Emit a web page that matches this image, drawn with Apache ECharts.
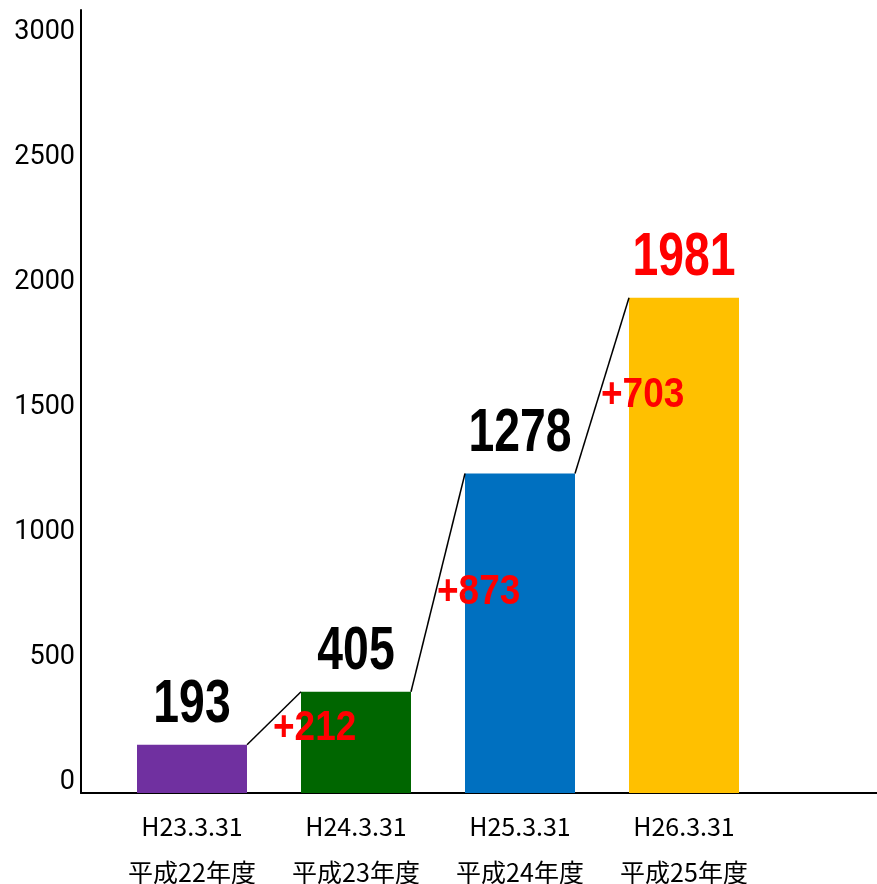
<!DOCTYPE html>
<html><head><meta charset="utf-8">
<script src="https://cdn.jsdelivr.net/npm/echarts@6/dist/echarts.min.js"></script>
<style>html,body{margin:0;padding:0;background:#fff}#c{width:877px;height:884px}</style>
</head><body><div id="c"></div>
<script>
const dates = ['H23.3.31', 'H24.3.31', 'H25.3.31', 'H26.3.31'];
const years = ['平成22年度', '平成23年度', '平成24年度', '平成25年度'];
const values = [193, 405, 1278, 1981];
const barColors = ['#7030A0', '#006600', '#0070C0', '#FFC000'];
const valueLabelColors = ['#000000', '#000000', '#000000', '#FF0000'];
const yTicks = [0, 500, 1000, 1500, 2000, 2500, 3000];

const categories = dates.map((d, i) => d + '\n' + years[i]);
const deltas = values.slice(1).map((v, i) => v - values[i]);
const BAR_W = 110;
const Y_MAX = 3132;
const bigFont = "'Liberation Sans', Arial, sans-serif";

const chart = echarts.init(document.getElementById('c'), null, {renderer: 'canvas'});
chart.setOption({
  animation: false,
  backgroundColor: '#ffffff',
  grid: [
    {left: 81, right: 0, top: 10, bottom: 91, outerBoundsMode: 'none', containLabel: false},
    {left: 110, width: 656, top: 10, bottom: 91, outerBoundsMode: 'none', containLabel: false}
  ],
  xAxis: [
    {type: 'value', gridIndex: 0, min: 0, max: 1, axisLine: {show: true, onZero: false, lineStyle: {color: '#000', width: 2}},
     axisTick: {show: false}, axisLabel: {show: false}, splitLine: {show: false}},
    {type: 'category', gridIndex: 1, data: categories, axisLine: {show: false}, axisTick: {show: false},
     axisLabel: {color: '#000', fontFamily: "'Noto Sans CJK JP', sans-serif", fontSize: 25, lineHeight: 46, margin: 10, interval: 0}}
  ],
  yAxis: [
    {type: 'value', gridIndex: 0, min: 0, max: Y_MAX, interval: 500,
     axisLine: {show: true, lineStyle: {color: '#000', width: 2}}, axisTick: {show: false}, splitLine: {show: false},
     axisLabel: {color: '#000', fontFamily: 'Roboto, sans-serif', fontSize: 27, margin: 6, verticalAlign: 'bottom',
       lineHeight: 22,
       formatter: v => yTicks.includes(v) ? String(v) : ''}},
    {type: 'value', gridIndex: 1, min: 0, max: Y_MAX, show: false}
  ],
  series: [
    {type: 'bar', xAxisIndex: 1, yAxisIndex: 1, barWidth: BAR_W,
     data: values.map((v, i) => ({value: v, itemStyle: {color: barColors[i]}})),
     label: {show: false}},
    {type: 'custom', xAxisIndex: 1, yAxisIndex: 1, z: 6,
     data: values.map((v, i) => [i, v]),
     renderItem: function (params, api) {
       const i = params.dataIndex;
       const p = api.coord([i, values[i]]);
       return {type: 'text', x: p[0], y: p[1] - 9, scaleX: 0.76,
         style: {text: String(values[i]), fill: valueLabelColors[i],
           font: 'bold 61px ' + bigFont, align: 'center', verticalAlign: 'bottom'}};
     }},
    {type: 'custom', xAxisIndex: 1, yAxisIndex: 1, z: 5,
     data: deltas.map((d, i) => [i, d]),
     renderItem: function (params, api) {
       const i = params.dataIndex;
       const a = api.coord([i, values[i]]);
       const b = api.coord([i + 1, values[i + 1]]);
       const x1 = a[0] + BAR_W / 2, y1 = a[1];
       const x2 = b[0] - BAR_W / 2, y2 = b[1];
       const mx = (x1 + x2) / 2, my = (y1 + y2) / 2;
       return {type: 'group', children: [
         {type: 'line', shape: {x1: x1, y1: y1, x2: x2, y2: y2}, style: {stroke: '#000', lineWidth: 1.5}},
         {type: 'text', x: mx - 1, y: my + 10, scaleX: 0.88, style: {text: '+' + deltas[i], fill: '#FF0000',
           font: 'bold 42px ' + bigFont, align: 'left', verticalAlign: 'middle'}}
       ]};
     }}
  ]
});
</script></body></html>
